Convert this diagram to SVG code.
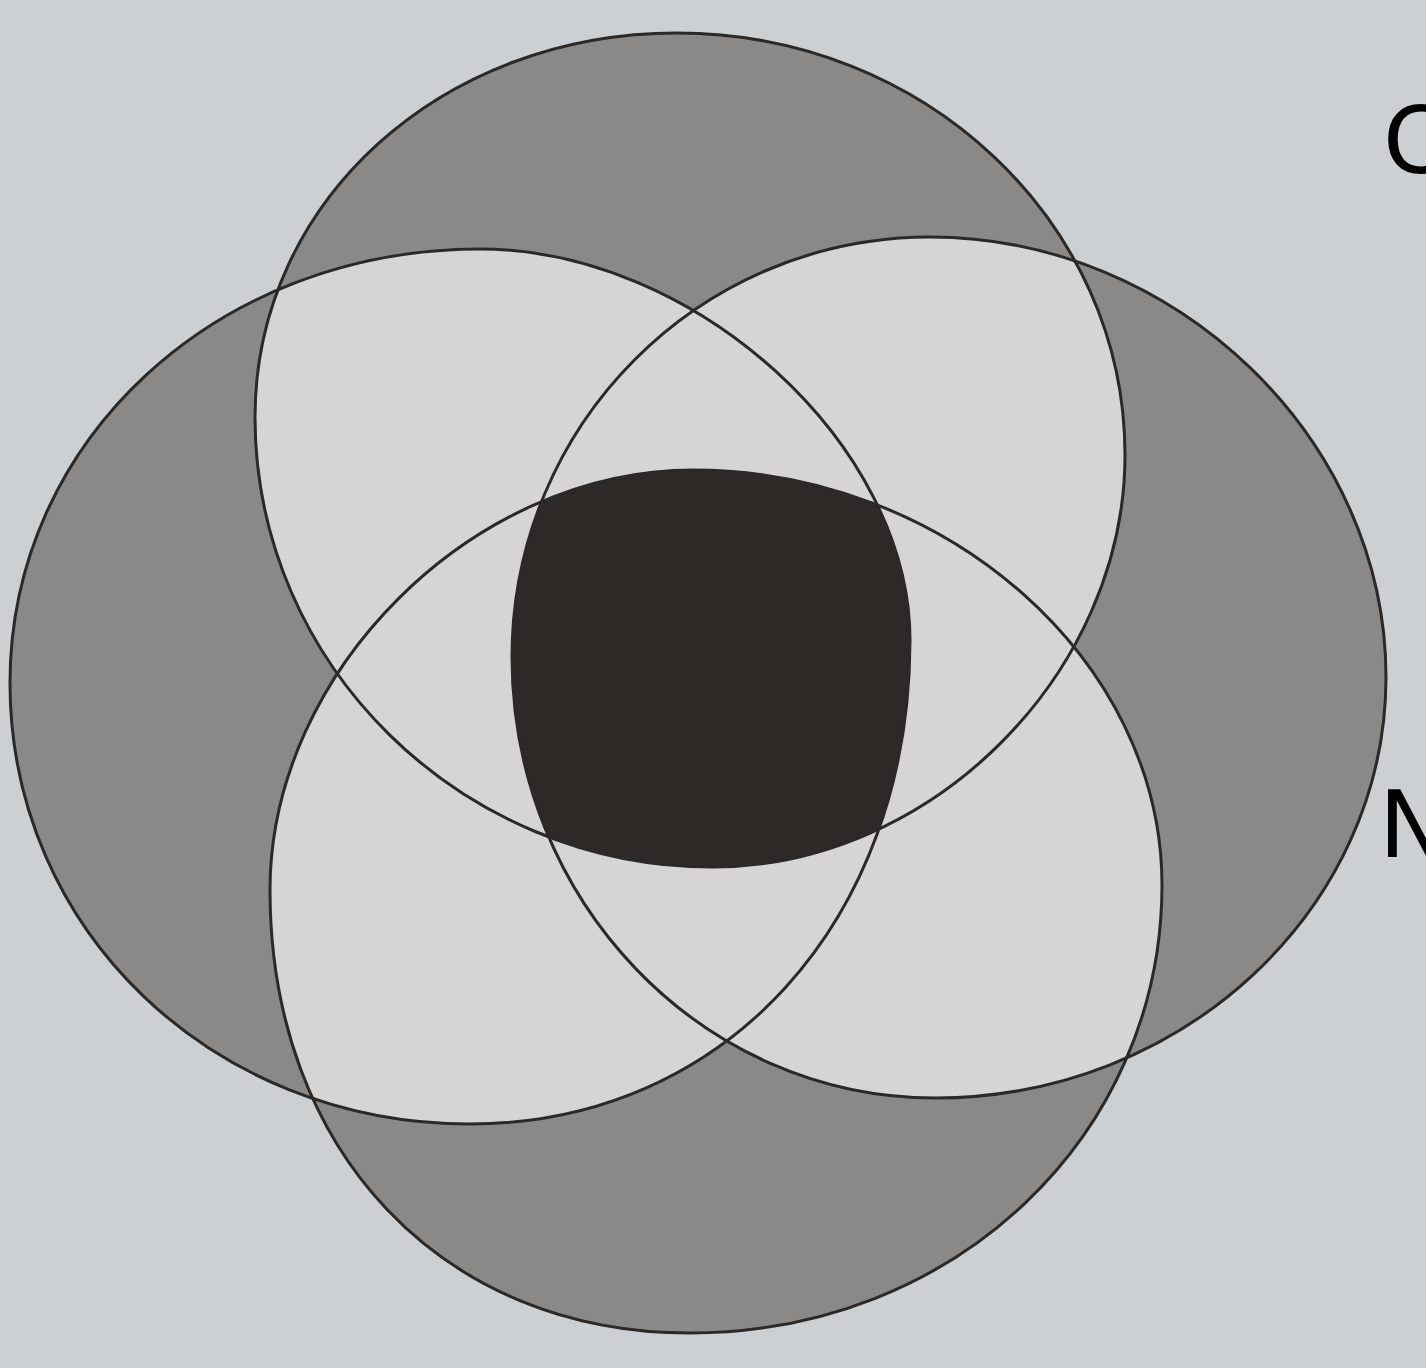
<svg xmlns="http://www.w3.org/2000/svg" xmlns:xlink="http://www.w3.org/1999/xlink" width="1426" height="1368" viewBox="0 0 1426 1368">
<style>
.shade{fill:#8b8987;stroke:none}
.light{fill:#d7d4d4;stroke:none}
.dark{fill:#2e2927;stroke:none}
.outline{fill:none;stroke:#2b2928;stroke-width:3}
.lbl{font-family:"DejaVu Sans","Liberation Sans",sans-serif;font-size:92px;fill:#000}
</style>
<defs>
<path id="pTop" d="M677,33 C924.4,33 1125,221.9 1125,455 C1125,673.4 931.4,867 713,867 C461.1,867 255,664.5 255,417 C255,202 440.7,33 677,33 Z"/>
<path id="pLeft" d="M480,249 C695,249 910,444.5 910,640 C910,920.7 725.2,1124 470,1124 C212.4,1124 10,930 10,683 C10,440 216.8,249 480,249 Z"/>
<path id="pRight" d="M930,237 C1176.2,237 1386,439.4 1386,677 C1386,908.6 1183.1,1098 935,1098 C701.4,1098 512,900.6 512,657 C512,425 699.1,237 930,237 Z"/>
<path id="pBottom" d="M693,470 C946.3,470 1162,660.9 1162,885 C1162,1135.9 954.3,1333 690,1333 C442.2,1333 270,1151.4 270,890 C270,671.6 473,470 693,470 Z"/>
<clipPath id="cTop"><use xlink:href="#pTop"/></clipPath>
<clipPath id="cLeft"><use xlink:href="#pLeft"/></clipPath>
<clipPath id="cRight"><use xlink:href="#pRight"/></clipPath>
<clipPath id="cBottom"><use xlink:href="#pBottom"/></clipPath>
</defs>
<rect x="0" y="0" width="1426" height="1368" fill="#cdd0d3"/>
<g id="regions">
<use xlink:href="#pTop" class="shade"/>
<use xlink:href="#pLeft" class="shade"/>
<use xlink:href="#pRight" class="shade"/>
<use xlink:href="#pBottom" class="shade"/>
<use xlink:href="#pTop" class="light" clip-path="url(#cLeft)"/>
<use xlink:href="#pTop" class="light" clip-path="url(#cRight)"/>
<use xlink:href="#pTop" class="light" clip-path="url(#cBottom)"/>
<use xlink:href="#pLeft" class="light" clip-path="url(#cRight)"/>
<use xlink:href="#pLeft" class="light" clip-path="url(#cBottom)"/>
<use xlink:href="#pRight" class="light" clip-path="url(#cBottom)"/>
<g clip-path="url(#cTop)"><g clip-path="url(#cLeft)"><use xlink:href="#pRight" class="dark" clip-path="url(#cBottom)"/></g></g>
</g>
<g id="set-top"><use xlink:href="#pTop" class="outline"/></g>
<g id="set-left"><use xlink:href="#pLeft" class="outline"/></g>
<g id="set-right"><use xlink:href="#pRight" class="outline"/></g>
<g id="set-bottom"><use xlink:href="#pBottom" class="outline"/></g>
<g id="connectors"></g>
<g id="labels">
<text class="lbl" x="1383" y="173">C</text>
<text class="lbl" x="1379" y="857">N</text>
</g>
</svg>
